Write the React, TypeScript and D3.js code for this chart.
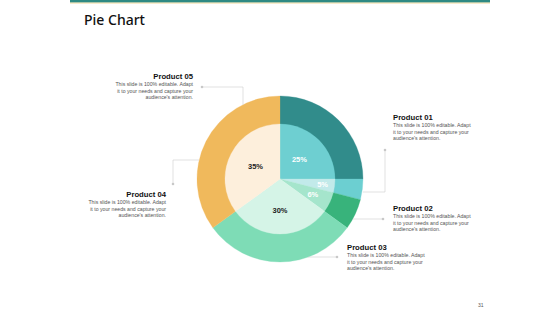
import React from "react";
import * as d3 from "d3";

const products = ["Product 01", "Product 02", "Product 03", "Product 04", "Product 05"];
const values = [25, 4, 6, 30, 35];
const pctLabels = ["25%", "5%", "6%", "30%", "35%"];
const outerColors = ["#318c8b", "#6ccfd1", "#38b37b", "#7edcb6", "#f0b95c"];
const innerColors = ["#6ecfd1", "#c2eaea", "#a5e5cc", "#d5f4e7", "#fdefdc"];
const labelColors = ["#ffffff", "#ffffff", "#ffffff", "#222222", "#222222"];
const labelRadiusFactor = [0.5, 0.78, 0.66, 0.57, 0.5];
const descLines = [
  "This slide is 100% editable. Adapt",
  "it to your needs and capture your",
  "audience's attention.",
];

const cx = 280, cy = 179, rOuter = 83, rInner = 55;

type Block = { name: string; x: number; y: number; anchor: "start" | "end" };
const blocks: Block[] = [
  { name: products[0], x: 393, y: 120, anchor: "start" },
  { name: products[1], x: 393, y: 211, anchor: "start" },
  { name: products[2], x: 347, y: 250, anchor: "start" },
  { name: products[3], x: 166, y: 197, anchor: "end" },
  { name: products[4], x: 193, y: 79, anchor: "end" },
];

const connectors: { pts: [number, number][]; dot: [number, number] }[] = [
  { pts: [[385, 150], [385, 192], [363, 192]], dot: [385, 150] },
  { pts: [[383, 219], [353, 219]], dot: [383, 219] },
  { pts: [[337, 257], [308, 257]], dot: [337, 257] },
  { pts: [[173, 184], [173, 160], [199, 160]], dot: [173, 184] },
  { pts: [[202, 87], [243, 87], [243, 105]], dot: [202, 87] },
];

export default function App() {
  const pie = d3.pie<number>().sort(null).value((d) => d)(values);
  const outerArc = d3.arc<d3.PieArcDatum<number>>().innerRadius(rInner - 1).outerRadius(rOuter);
  const innerArc = d3.arc<d3.PieArcDatum<number>>().innerRadius(0).outerRadius(rInner);
  const font = "'Liberation Sans', Arial, sans-serif";
  return (
    <svg width={560} height={315} style={{ position: "absolute", left: 0, top: 0, background: "#fff" }}>
      <rect x={70} y={0} width={420} height={2.6} fill="#2f8a83" />
      <rect x={70} y={2.6} width={420} height={0.9} fill="#f1d99a" />
      <text x={84} y={25} fontFamily="'Noto Sans', 'Open Sans', sans-serif" fontSize={14} fontWeight={500} fill="#111">
        Pie Chart
      </text>
      <g transform={`translate(${cx},${cy})`}>
        {pie.map((d, i) => (
          <path key={"o" + i} d={outerArc(d) || ""} fill={outerColors[i]} stroke={outerColors[i]} strokeWidth={0.3} />
        ))}
        {pie.map((d, i) => (
          <path key={"i" + i} d={innerArc(d) || ""} fill={innerColors[i]} stroke={innerColors[i]} strokeWidth={0.3} />
        ))}
        {pie.map((d, i) => {
          const a = (d.startAngle + d.endAngle) / 2;
          const r = rInner * labelRadiusFactor[i];
          return (
            <text
              key={"l" + i}
              x={Math.sin(a) * r}
              y={-Math.cos(a) * r}
              dy="0.35em"
              textAnchor="middle"
              fontFamily={font}
              fontSize={7.5}
              fontWeight="bold"
              fill={labelColors[i]}
            >
              {pctLabels[i]}
            </text>
          );
        })}
      </g>
      {connectors.map((c, i) => (
        <g key={"c" + i}>
          <polyline points={c.pts.map((p) => p.join(",")).join(" ")} fill="none" stroke="#cfcfcf" strokeWidth={0.6} />
          <circle cx={c.dot[0]} cy={c.dot[1]} r={1.3} fill="#c8c8c8" />
        </g>
      ))}
      {blocks.map((b, i) => (
        <g key={"b" + i} fontFamily={font} textAnchor={b.anchor}>
          <text x={b.x} y={b.y} fontSize={7.7} fontWeight="bold" fill="#111">
            {b.name}
          </text>
          {descLines.map((t, j) => (
            <text key={j} x={b.x} y={b.y + 7 + j * 6.6} fontSize={5.2} fill="#555">
              {t}
            </text>
          ))}
        </g>
      ))}
      <text x={478} y={307} fontFamily={font} fontSize={5} fill="#555">
        31
      </text>
    </svg>
  );
}
